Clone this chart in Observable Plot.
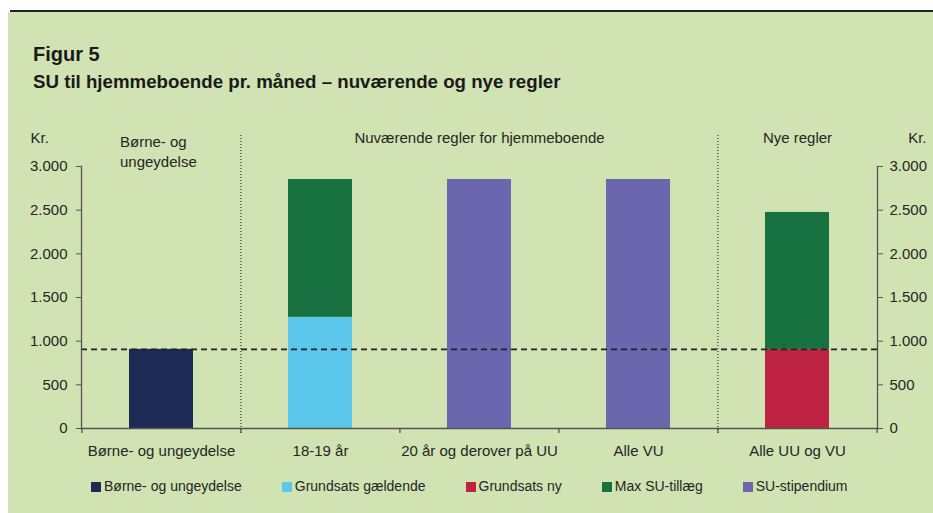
<!DOCTYPE html>
<html>
<head>
<meta charset="utf-8">
<script src="https://cdn.jsdelivr.net/npm/d3@7"></script>
<script src="https://cdn.jsdelivr.net/npm/@observablehq/plot@0.6"></script>
<style>
  html, body { margin: 0; padding: 0; }
  body { width: 933px; height: 513px; position: relative; overflow: hidden; background: #ffffff;
         font-family: "Liberation Sans", Arial, sans-serif; color: #262626; }
  #panel { position: absolute; left: 8px; top: 12px; width: 925px; height: 501px; background: #d1e3b2; }
  #topline { position: absolute; left: 10px; top: 10px; width: 923px; height: 2px; background: #222; }
  .title { position: absolute; left: 33px; font-weight: bold; white-space: nowrap; color: #1a1a1a; }
  #t1 { top: 44px; font-size: 20px; line-height: 20px; }
  #t2 { top: 73px; font-size: 18.7px; line-height: 18.7px; }
  #chart { position: absolute; left: 0; top: 120px; }
  #legend { position: absolute; left: 91px; top: 479px; display: flex; gap: 40px; font-size: 14px; line-height: 14px; white-space: nowrap; }
  .item { display: flex; align-items: flex-start; }
  .sw { width: 10px; height: 10px; margin-top: 3px; margin-right: 3px; }
</style>
</head>
<body>
<div id="panel"></div>
<div id="topline"></div>
<div class="title" id="t1">Figur 5</div>
<div class="title" id="t2">SU til hjemmeboende pr. måned – nuværende og nye regler</div>
<div id="chart"></div>
<div id="legend"></div>
<script>
// ---- data ----
const categories = ["Børne- og ungeydelse", "18-19 år", "20 år og derover på UU", "Alle VU", "Alle UU og VU"];
const seriesNames = ["Børne- og ungeydelse", "Grundsats gældende", "Grundsats ny", "Max SU-tillæg", "SU-stipendium"];
const seriesColors = ["#1d2a55", "#5bc8eb", "#be2344", "#187140", "#6b66ad"];
const boerneUngeydelse   = [906, 0, 0, 0, 0];
const grundsatsGaeldende = [0, 1273, 0, 0, 0];
const grundsatsNy        = [0, 0, 0, 0, 906];
const maxSUtillaeg       = [0, 1578, 0, 0, 1568];
const suStipendium       = [0, 0, 2851, 2851, 0];
const referenceLevel = [906];
const yTicks = [0, 500, 1000, 1500, 2000, 2500, 3000];
const dividerAt = ["18-19 år", "Alle UU og VU"];
const groupLabelTexts = ["Børne- og\nungeydelse", "Nuværende regler for hjemmeboende", "Nye regler"];
const groupLabelAt = ["Børne- og ungeydelse", "20 år og derover på UU", "Alle UU og VU"];
const unitLabel = "Kr.";

// ---- table ----
const seriesValues = [boerneUngeydelse, grundsatsGaeldende, grundsatsNy, maxSUtillaeg, suStipendium];
const rows = categories.flatMap((c, i) => seriesNames.map((s, j) => ({category: c, series: s, value: seriesValues[j][i]})))
  .filter(d => d.value > 0);

// ---- layout ----
const W = 933, H = 350, mL = 81, mR = 56, mT = 46, mB = 42;
const step = (W - mL - mR) / categories.length;
const fmt = d3.formatLocale({decimal: ",", thousands: ".", grouping: [3], currency: ["", ""]}).format(",");
const axisColor = "#555";

const chart = Plot.plot({
  width: W, height: H,
  marginLeft: mL, marginRight: mR, marginTop: mT, marginBottom: mB,
  style: {background: "transparent", fontFamily: "'Liberation Sans', Arial, sans-serif", fontSize: "15px", color: "#262626", overflow: "visible"},
  x: {type: "band", domain: categories, paddingInner: 0.6, paddingOuter: 0.3},
  y: {domain: [0, 3000]},
  color: {domain: seriesNames, range: seriesColors},
  marks: [
    Plot.barY(rows, {x: "category", y: "value", fill: "series"}),
    Plot.ruleX(dividerAt, {x: d => d, y1: 3000, y2: 0, dx: -step / 2, insetTop: -31, insetBottom: -5,
      stroke: "#333", strokeWidth: 1.2, strokeDasharray: "1,2"}),
    Plot.ruleY(referenceLevel, {y: d => d, stroke: "#222", strokeWidth: 1.6, strokeDasharray: "6,4"}),
    Plot.frame({anchor: "left", stroke: axisColor, strokeWidth: 1.3}),
    Plot.frame({anchor: "right", stroke: axisColor, strokeWidth: 1.3}),
    Plot.frame({anchor: "bottom", stroke: axisColor, strokeWidth: 1.3}),
    Plot.axisY({anchor: "left", ticks: yTicks, tickSize: 5, tickPadding: 9, tickFormat: fmt, label: null, stroke: axisColor}),
    Plot.axisY({anchor: "right", ticks: yTicks, tickSize: 5, tickPadding: 7, tickFormat: fmt, label: null, stroke: axisColor}),
    Plot.axisX({anchor: "bottom", tickSize: 0, tickPadding: 17, label: null}),
    Plot.ruleX(categories, {x: d => d, y1: 0, y2: 0, dx: -step / 2, insetBottom: -5, stroke: axisColor, strokeWidth: 1.3}),
    Plot.ruleX(categories.slice(-1), {x: d => d, y1: 0, y2: 0, dx: step / 2, insetBottom: -5, stroke: axisColor, strokeWidth: 1.3}),
    Plot.text(groupLabelTexts.slice(0, 1), {x: (d, i) => groupLabelAt[i], text: d => d, frameAnchor: "top",
      lineAnchor: "top", textAnchor: "start", dx: -41.5, dy: -34, lineHeight: 1.33}),
    Plot.text(groupLabelTexts.slice(1), {x: (d, i) => groupLabelAt[i + 1], text: d => d, frameAnchor: "top",
      lineAnchor: "top", textAnchor: "middle", dy: -34}),
    Plot.text([unitLabel], {frameAnchor: "top-left", text: d => d, lineAnchor: "top", textAnchor: "start", dx: -51, dy: -34}),
    Plot.text([unitLabel], {frameAnchor: "top-right", text: d => d, lineAnchor: "top", textAnchor: "end", dx: 49, dy: -34})
  ]
});
document.getElementById("chart").appendChild(chart);

// ---- legend ----
const legend = document.getElementById("legend");
seriesNames.forEach((name, i) => {
  const item = document.createElement("div");
  item.className = "item";
  const sw = document.createElement("span");
  sw.className = "sw";
  sw.style.background = seriesColors[i];
  const lab = document.createElement("span");
  lab.textContent = name;
  item.appendChild(sw);
  item.appendChild(lab);
  legend.appendChild(item);
});
</script>
</body>
</html>
